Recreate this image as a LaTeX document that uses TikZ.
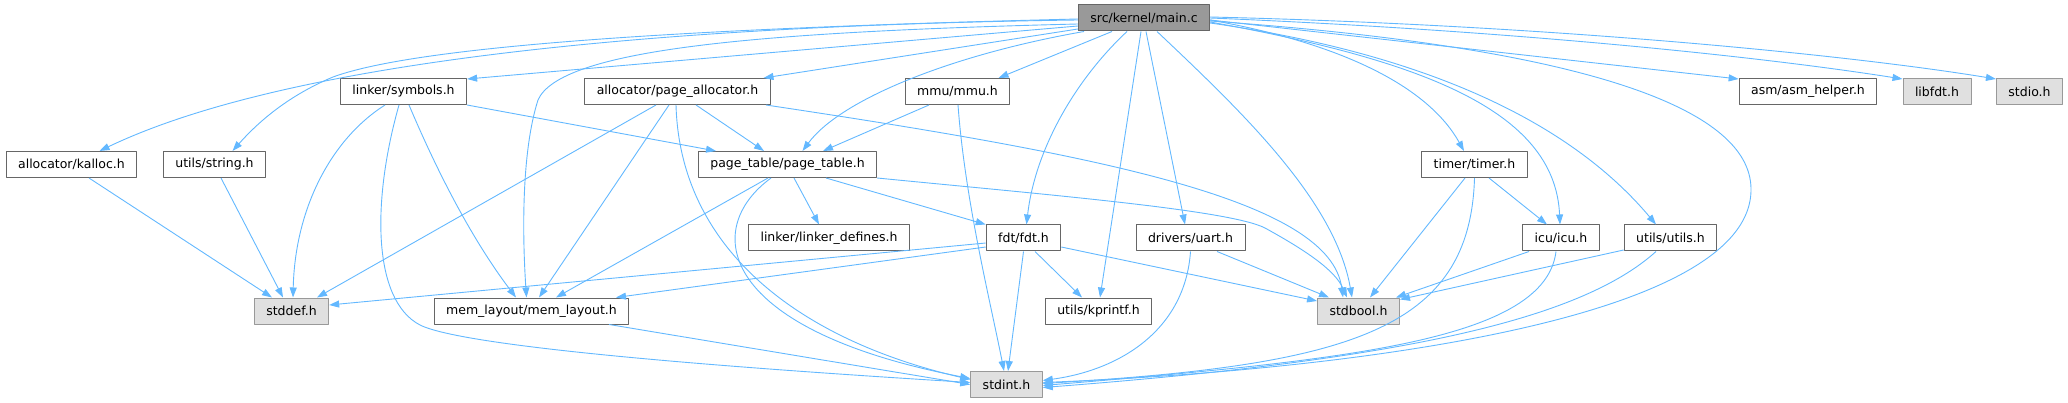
\documentclass[tikz,border=0pt]{standalone}
\usepackage{fontspec}
\setmainfont{DejaVu Sans}
\usetikzlibrary{arrows.meta}
\definecolor{edgeblue}{HTML}{63B8FF}
\definecolor{boxline}{HTML}{666666}
\definecolor{sysfill}{HTML}{E0E0E0}
\definecolor{sysline}{HTML}{999999}
\begin{document}
\begin{tikzpicture}[x=1pt,y=-1pt,>={Triangle[length=10pt,width=7pt]},
	font=\fontsize{12.5}{15}\selectfont, line join=round,
	hdr/.style={draw=boxline,fill=white,line width=1pt,inner xsep=12pt,inner ysep=0pt,minimum height=26pt},
	sysh/.style={hdr,draw=sysline,fill=sysfill},
	mainh/.style={hdr,fill=sysline},
	inc/.style={->,draw=edgeblue,fill=none,line width=0.9pt}]
	\useasboundingbox (0,0) rectangle (2068,403);
	% headers
	\node[mainh] (mainc) at (1144,18) {src/kernel/main.c};
	\node[hdr] (symbols) at (403.5,91.5) {linker/symbols.h};
	\node[hdr] (pgalloc) at (677.5,91.5) {allocator/page\_allocator.h};
	\node[hdr] (mmu) at (957.5,91.5) {mmu/mmu.h};
	\node[hdr] (asmh) at (1808,91.5) {asm/asm\_helper.h};
	\node[sysh] (libfdt) at (1937,91.5) {libfdt.h};
	\node[sysh] (stdio) at (2029.5,91.5) {stdio.h};
	\node[hdr] (kalloc) at (71.5,164.5) {allocator/kalloc.h};
	\node[hdr] (strh) at (214.5,164.5) {utils/string.h};
	\node[hdr] (pgtable) at (787.5,164.5) {page\_table/page\_table.h};
	\node[hdr] (timer) at (1474.5,164.5) {timer/timer.h};
	\node[hdr] (lnkdef) at (829,238) {linker/linker\_defines.h};
	\node[hdr] (fdt) at (1023.5,238) {fdt/fdt.h};
	\node[hdr] (uart) at (1190.5,238) {drivers/uart.h};
	\node[hdr] (icu) at (1561,238) {icu/icu.h};
	\node[hdr] (utils) at (1670.5,238) {utils/utils.h};
	\node[sysh] (stddef) at (291.5,311) {stddef.h};
	\node[hdr] (memlay) at (531.5,311) {mem\_layout/mem\_layout.h};
	\node[hdr] (kprintf) at (1098.5,311) {utils/kprintf.h};
	\node[sysh] (stdbool) at (1358.5,311) {stdbool.h};
	\node[sysh] (stdint) at (1006.5,384.5) {stdint.h};
	% main.c
	\draw[inc] ([yshift=-2pt]mainc.west) .. controls (700,25) and (300,55) .. ([xshift=28pt]kalloc.north);
	\draw[inc] ([yshift=-1pt]mainc.west) .. controls (700,28) and (420,45) .. (333,77) .. controls (290,95) and (260,120) .. ([xshift=18pt]strh.north);
	\draw[inc] ([yshift=-8pt]mainc.west) -- ([yshift=-1pt]symbols.north east);
	\draw[inc] ([yshift=-11pt]mainc.west) -- ([xshift=86pt]pgalloc.north);
	\draw[inc] ([yshift=-6pt]mainc.west) .. controls (750,32) and (560,50) .. (538,100) .. controls (522,150) and (522,230) .. ([xshift=-5pt]memlay.north);
	\draw[inc] ([xshift=-60pt]mainc.south) .. controls (950,55) and (840,100) .. ([xshift=15pt]pgtable.north);
	\draw[inc] ([xshift=-32pt]mainc.south) -- ([xshift=41pt]mmu.north);
	\draw[inc] ([xshift=-17pt]mainc.south) .. controls (1075,80) and (1035,150) .. ([xshift=3pt]fdt.north);
	\draw[inc] ([xshift=-3pt]mainc.south) -- ([xshift=1.5pt]kprintf.north);
	\draw[inc] ([xshift=2pt]mainc.south) -- ([xshift=-5.5pt]uart.north);
	\draw[inc] ([xshift=13pt]mainc.south) .. controls (1240,110) and (1335,200) .. ([xshift=-6.5pt]stdbool.north);
	\draw[inc] ([yshift=-2pt]mainc.east) .. controls (1350,45) and (1430,90) .. ([xshift=-10.5pt]timer.north);
	\draw[inc] ([yshift=-4pt]mainc.east) .. controls (1420,60) and (1555,110) .. ([xshift=-1pt]icu.north);
	\draw[inc] ([yshift=-5pt]mainc.east) .. controls (1400,50) and (1560,110) .. ([xshift=-14.5pt]utils.north);
	\draw[inc] ([yshift=-3pt]mainc.east) .. controls (1550,45) and (1752,100) .. (1751,190) .. controls (1750,320) and (1350,370) .. ([yshift=2pt]stdint.east);
	\draw[inc] ([yshift=-2pt]mainc.east) -- ([yshift=-1pt]asmh.north west);
	\draw[inc] (mainc.east) .. controls (1500,30) and (1750,55) .. ([yshift=-1pt]libfdt.north west);
	\draw[inc] ([yshift=1pt]mainc.east) .. controls (1550,25) and (1850,55) .. ([yshift=-1pt]stdio.north west);
	% linker/symbols.h
	\draw[inc] ([xshift=-18.5pt]symbols.south) .. controls (330,140) and (295,210) .. ([xshift=1.5pt]stddef.north);
	\draw[inc] ([xshift=-4.5pt]symbols.south) .. controls (372,200) and (372,300) .. (420,325) .. controls (470,350) and (800,372) .. ([yshift=2pt]stdint.west);
	\draw[inc] ([xshift=5.5pt]symbols.south) .. controls (445,190) and (480,250) .. ([xshift=-15.5pt]memlay.north);
	\draw[inc] (symbols.south east) -- ([xshift=-71.5pt]pgtable.north);
	% allocator/page_allocator.h
	\draw[inc] ([xshift=-21.5pt]pgalloc.south) -- ([xshift=25.5pt]stddef.north);
	\draw[inc] ([xshift=-8.5pt]pgalloc.south) -- ([xshift=7.5pt]memlay.north);
	\draw[inc] ([xshift=-1.5pt]pgalloc.south) .. controls (680,250) and (800,340) .. ([yshift=5pt]stdint.west);
	\draw[inc] ([xshift=18.5pt]pgalloc.south) -- ([xshift=-23.5pt]pgtable.north);
	\draw[inc] ([xshift=88.5pt]pgalloc.south) .. controls (1100,155) and (1330,200) .. ([xshift=-15.5pt]stdbool.north);
	% mmu/mmu.h
	\draw[inc] ([xshift=-28.5pt]mmu.south) -- ([xshift=35.5pt]pgtable.north);
	\draw[inc] ([xshift=0.5pt]mmu.south) .. controls (965,200) and (990,300) .. ([xshift=-2.5pt]stdint.north);
	% page_table/page_table.h
	\draw[inc] ([xshift=-19.5pt]pgtable.south) -- ([xshift=24.5pt]memlay.north);
	\draw[inc] ([xshift=-16.5pt]pgtable.south) .. controls (700,230) and (720,330) .. ([yshift=6pt]stdint.west);
	\draw[inc] ([xshift=6.5pt]pgtable.south) -- ([xshift=-10pt]lnkdef.north);
	\draw[inc] ([xshift=38.5pt]pgtable.south) -- (fdt.north west);
	\draw[inc] (pgtable.south east) .. controls (1050,195) and (1230,210) .. (1265,228) .. controls (1305,250) and (1335,270) .. ([xshift=-11.5pt]stdbool.north);
	% fdt/fdt.h
	\draw[inc] ([yshift=-5pt]fdt.west) -- ([yshift=6pt]stddef.east);
	\draw[inc] ([yshift=-9pt]fdt.west) -- ([xshift=84.5pt]memlay.north);
	\draw[inc] (fdt.south) -- ([xshift=1.5pt]stdint.north);
	\draw[inc] ([xshift=11.5pt]fdt.south) -- ([xshift=-16.5pt]kprintf.north);
	\draw[inc] ([yshift=-9pt]fdt.east) -- ([yshift=10pt]stdbool.west);
	% drivers/uart.h
	\draw[inc] (uart.south) .. controls (1185,330) and (1120,370) .. ([yshift=4pt]stdint.east);
	\draw[inc] ([xshift=26.5pt]uart.south) -- ([xshift=-29.5pt]stdbool.north);
	% timer/timer.h
	\draw[inc] ([xshift=-9.5pt]timer.south) -- ([xshift=11.5pt]stdbool.north);
	\draw[inc] (timer.south) .. controls (1470,330) and (1350,365) .. ([yshift=1pt]stdint.east);
	\draw[inc] ([xshift=14.5pt]timer.south) -- ([xshift=-14pt]icu.north);
	% icu/icu.h, utils/utils.h
	\draw[inc] ([xshift=-32pt]icu.south) -- ([xshift=-4pt]stdbool.north east);
	\draw[inc] ([xshift=-5pt]icu.south) .. controls (1545,340) and (1350,360) .. ([yshift=-1pt]stdint.east);
	\draw[inc] ([yshift=-12pt]utils.west) -- ([yshift=-2pt]stdbool.north east);
	\draw[inc] ([xshift=-14.5pt]utils.south) .. controls (1580,320) and (1400,360) .. ([yshift=-3pt]stdint.east);
	% the rest
	\draw[inc] ([xshift=17.5pt]kalloc.south) -- ([xshift=-19.5pt]stddef.north);
	\draw[inc] ([xshift=6.5pt]strh.south) -- ([xshift=-8.5pt]stddef.north);
	\draw[inc] ([xshift=77.5pt]memlay.south) -- (stdint.west);
\end{tikzpicture}
\end{document}
